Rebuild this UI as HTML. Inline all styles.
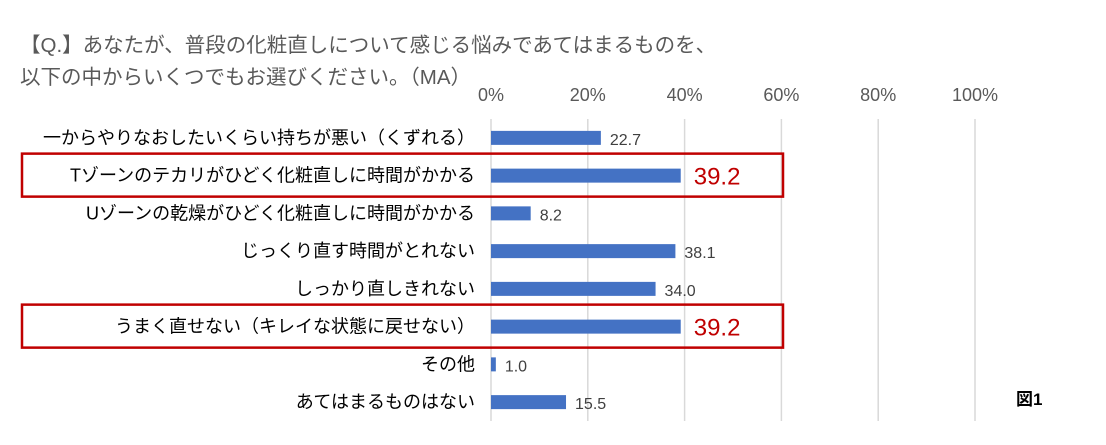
<!DOCTYPE html>
<html><head><meta charset="utf-8"><style>
body{margin:0;background:#fff;}
svg{display:block;font-family:"Liberation Sans","Noto Sans CJK JP",sans-serif;}
</style></head><body>
<svg id="c" width="1106" height="445">
<text x="20" y="52" font-size="20.5" fill="#595959">【Q.】あなたが、普段の化粧直しについて感じる悩みであてはまるものを、</text>
<text x="20" y="84" font-size="20.5" fill="#595959">以下の中からいくつでもお選びください。（MA）</text>
<text x="1016" y="405" font-size="17" font-weight="bold" fill="#000">図1</text>
</svg>
<script>
const categories=["一からやりなおしたいくらい持ちが悪い（くずれる）","Tゾーンのテカリがひどく化粧直しに時間がかかる","Uゾーンの乾燥がひどく化粧直しに時間がかかる","じっくり直す時間がとれない","しっかり直しきれない","うまく直せない（キレイな状態に戻せない）","その他","あてはまるものはない"];
const values=[22.7,39.2,8.2,38.1,34.0,39.2,1.0,15.5];
const highlighted=[false,true,false,false,false,true,false,false];
const ticks=[0,20,40,60,80,100];
const tickLabels=["0%","20%","40%","60%","80%","100%"];
const svg=document.getElementById('c');
const NS="http://www.w3.org/2000/svg";
const x0=491,x1=975,yTop=119,yBot=421;
const xs=v=>x0+(v/100)*(x1-x0);
const rowH=(yBot-yTop)/categories.length;
const yc=i=>yTop+rowH*(i+0.5);
function mk(t,a){const e=document.createElementNS(NS,t);for(const k in a)e.setAttribute(k,a[k]);svg.appendChild(e);return e;}
ticks.forEach((t,i)=>{
 const g=mk('line',{x1:xs(t),x2:xs(t),y1:yTop,y2:yBot,stroke:'#d9d9d9','stroke-width':1.5});
 
 
 const l=mk('text',{x:xs(t),y:101,'font-size':18,fill:'#595959','text-anchor':'middle'});
 l.textContent=tickLabels[i];
 
 
});
categories.forEach((c,i)=>{
 const y=yc(i);
 const lab=mk('text',{x:475,y:y+6,'font-size':18,fill:'#000','text-anchor':'end'});
 lab.textContent=c;
 
 
 const b=mk('rect',{x:x0,y:y-7,width:xs(values[i])-x0,height:14,fill:'#4472c4'});
 
 
 const v=mk('text',{x:xs(values[i])+(highlighted[i]?13:9),y:y+(highlighted[i]?9:7),'font-size':highlighted[i]?24:16,fill:highlighted[i]?'#c00000':'#404040'});
 v.textContent=values[i].toFixed(1);
 
 
 if(highlighted[i]){
  const r=mk('rect',{x:22,y:y-22,width:761,height:43,fill:'none',stroke:'#c00000','stroke-width':2.5});
  
  
 }
});
</script>
</body></html>
